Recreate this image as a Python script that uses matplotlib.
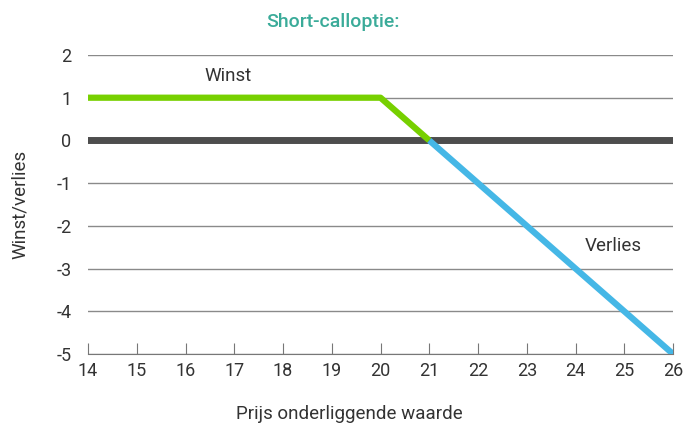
import numpy as np
import matplotlib.pyplot as plt

plt.rcParams['font.family'] = ['Roboto', 'DejaVu Sans']
plt.rcParams['axes.unicode_minus'] = False

# Koers onderliggende waarde en winst/verlies van de short-calloptie
prijs = [14, 15, 16, 17, 18, 19, 20, 21, 22, 23, 24, 25, 26]
resultaat = [1, 1, 1, 1, 1, 1, 1, 0, -1, -2, -3, -4, -5]
yticks = [2, 1, 0, -1, -2, -3, -4, -5]

prijs = np.array(prijs)
resultaat = np.array(resultaat)
winst = prijs <= 21
verlies = prijs >= 21

tekst = '#333333'
fs = 13.5

fig = plt.figure(figsize=(6.85, 4.28), dpi=100)
ax = fig.add_axes([0.1285, 0.1729, 0.8540, 0.6986])

for y in yticks:
    ax.axhline(y, color='#8a8a8a', lw=1.0, zorder=1)
ax.axhline(0, color='#4d4d4d', lw=5, zorder=2)

ax.plot(prijs[winst], resultaat[winst], color='#77d000', lw=4.5,
        solid_capstyle='butt', zorder=3)
ax.plot(prijs[verlies], resultaat[verlies], color='#45b7e6', lw=4.5,
        solid_capstyle='butt', zorder=3)

ax.text(16.87, 1.52, 'Winst', fontsize=fs, color=tekst, ha='center', va='center')
ax.text(24.77, -2.47, 'Verlies', fontsize=fs, color=tekst, ha='center', va='center')

ax.set_xlim(14, 26)
ax.set_ylim(-5, 2)
ax.set_xticks(prijs)
ax.set_yticks(yticks)
ax.tick_params(axis='x', direction='in', length=8, color='#777777',
               labelsize=13, labelcolor=tekst, pad=6)
ax.tick_params(axis='y', length=0, labelsize=13, labelcolor=tekst, pad=12)

for s in ['top', 'right', 'left']:
    ax.spines[s].set_visible(False)
ax.spines['bottom'].set_color('#777777')

ax.set_xlabel('Prijs onderliggende waarde', fontsize=fs, color=tekst, labelpad=20)
ax.xaxis.set_label_coords(0.446, -0.17)
ax.set_ylabel('Winst/verlies', fontsize=fs, color=tekst, labelpad=20)
fig.text(0.486, 0.948, 'Short-calloptie:', fontsize=14, color='#3aab99',
         fontweight='medium', ha='center', va='center')

fig.savefig('out.png', dpi=100)
